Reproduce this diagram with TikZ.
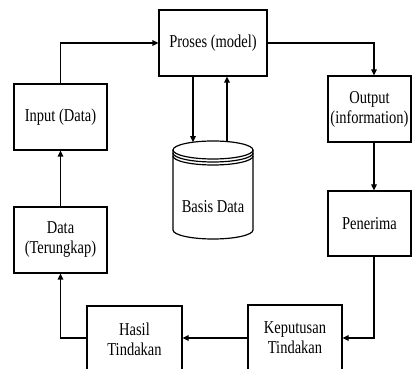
\documentclass[tikz,border=0pt]{standalone}
\usepackage{fontspec}
\setmainfont{Liberation Serif}
\usetikzlibrary{arrows.meta}
\newcommand\tx[1]{\scalebox{1}[1.25]{#1}}
\begin{document}
\begin{tikzpicture}[x=1pt,y=1pt,
  line width=1.2pt,
  box/.style={draw, rectangle, inner sep=1pt, align=center, font=\fontsize{14.5}{20}\selectfont},
  arr/.style={-{Triangle[length=6pt,width=5.5pt]}},
  lbl/.style={font=\fontsize{14.5}{20}\selectfont}]
\useasboundingbox (0,0) rectangle (412,369);
\clip (0,0) rectangle (412,369);
\node[box, minimum width=108pt, minimum height=66pt] (proses) at (213,326) {\tx{Proses (model)}};
\node[box, minimum width=93pt, minimum height=66pt] (input) at (60.5,252) {\tx{Input (Data)}};
\node[box, minimum width=93pt, minimum height=66pt] (data) at (60.5,129) {\tx{Data}\\\tx{(Terungkap)}};
\node[box, minimum width=83pt, minimum height=66pt] (output) at (369.5,260) {\tx{Output}\\\tx{(information)}};
\node[box, minimum width=83pt, minimum height=65pt] (penerima) at (369.5,145.5) {\tx{Penerima}};
\node[box, minimum width=94pt, minimum height=66pt] (keputusan) at (295,31) {\tx{Keputusan}\\\tx{Tindakan}};
\node[box, minimum width=95pt, minimum height=66pt] (hasil) at (134.5,30) {\tx{Hasil}\\\tx{Tindakan}};
% database cylinder
\draw (173,219) -- (173,139) arc[start angle=180,end angle=360,x radius=40pt,y radius=9pt] -- (253,219);
\draw (213,219) ellipse [x radius=40pt, y radius=9pt];
\draw (173,216) arc[start angle=180,end angle=360,x radius=40pt,y radius=9pt];
\draw (173,213) arc[start angle=180,end angle=360,x radius=40pt,y radius=9pt];
\node[lbl] (basis) at (213,162) {\tx{Basis Data}};
\coordinate (dbL) at (193,226.8);
\coordinate (dbR) at (227,227.4);
\coordinate (ox) at (374,0);
% connectors
\draw[arr] (input.north) |- (proses.west);
\draw[arr] (proses.east) -| (output.north -| ox);
\draw[arr] (output.south -| ox) -- (penerima.north -| ox);
\draw[arr] (penerima.south -| ox) |- (keputusan.east);
\draw[arr] (keputusan.west) -- (keputusan.west -| hasil.east);
\draw[arr] (hasil.west |- keputusan.west) -| (data.south);
\draw[arr] (data.north) -- (input.south);
\draw[arr] (proses.south -| dbL) -- (dbL);
\draw[arr] (dbR) -- (proses.south -| dbR);
\end{tikzpicture}
\end{document}
